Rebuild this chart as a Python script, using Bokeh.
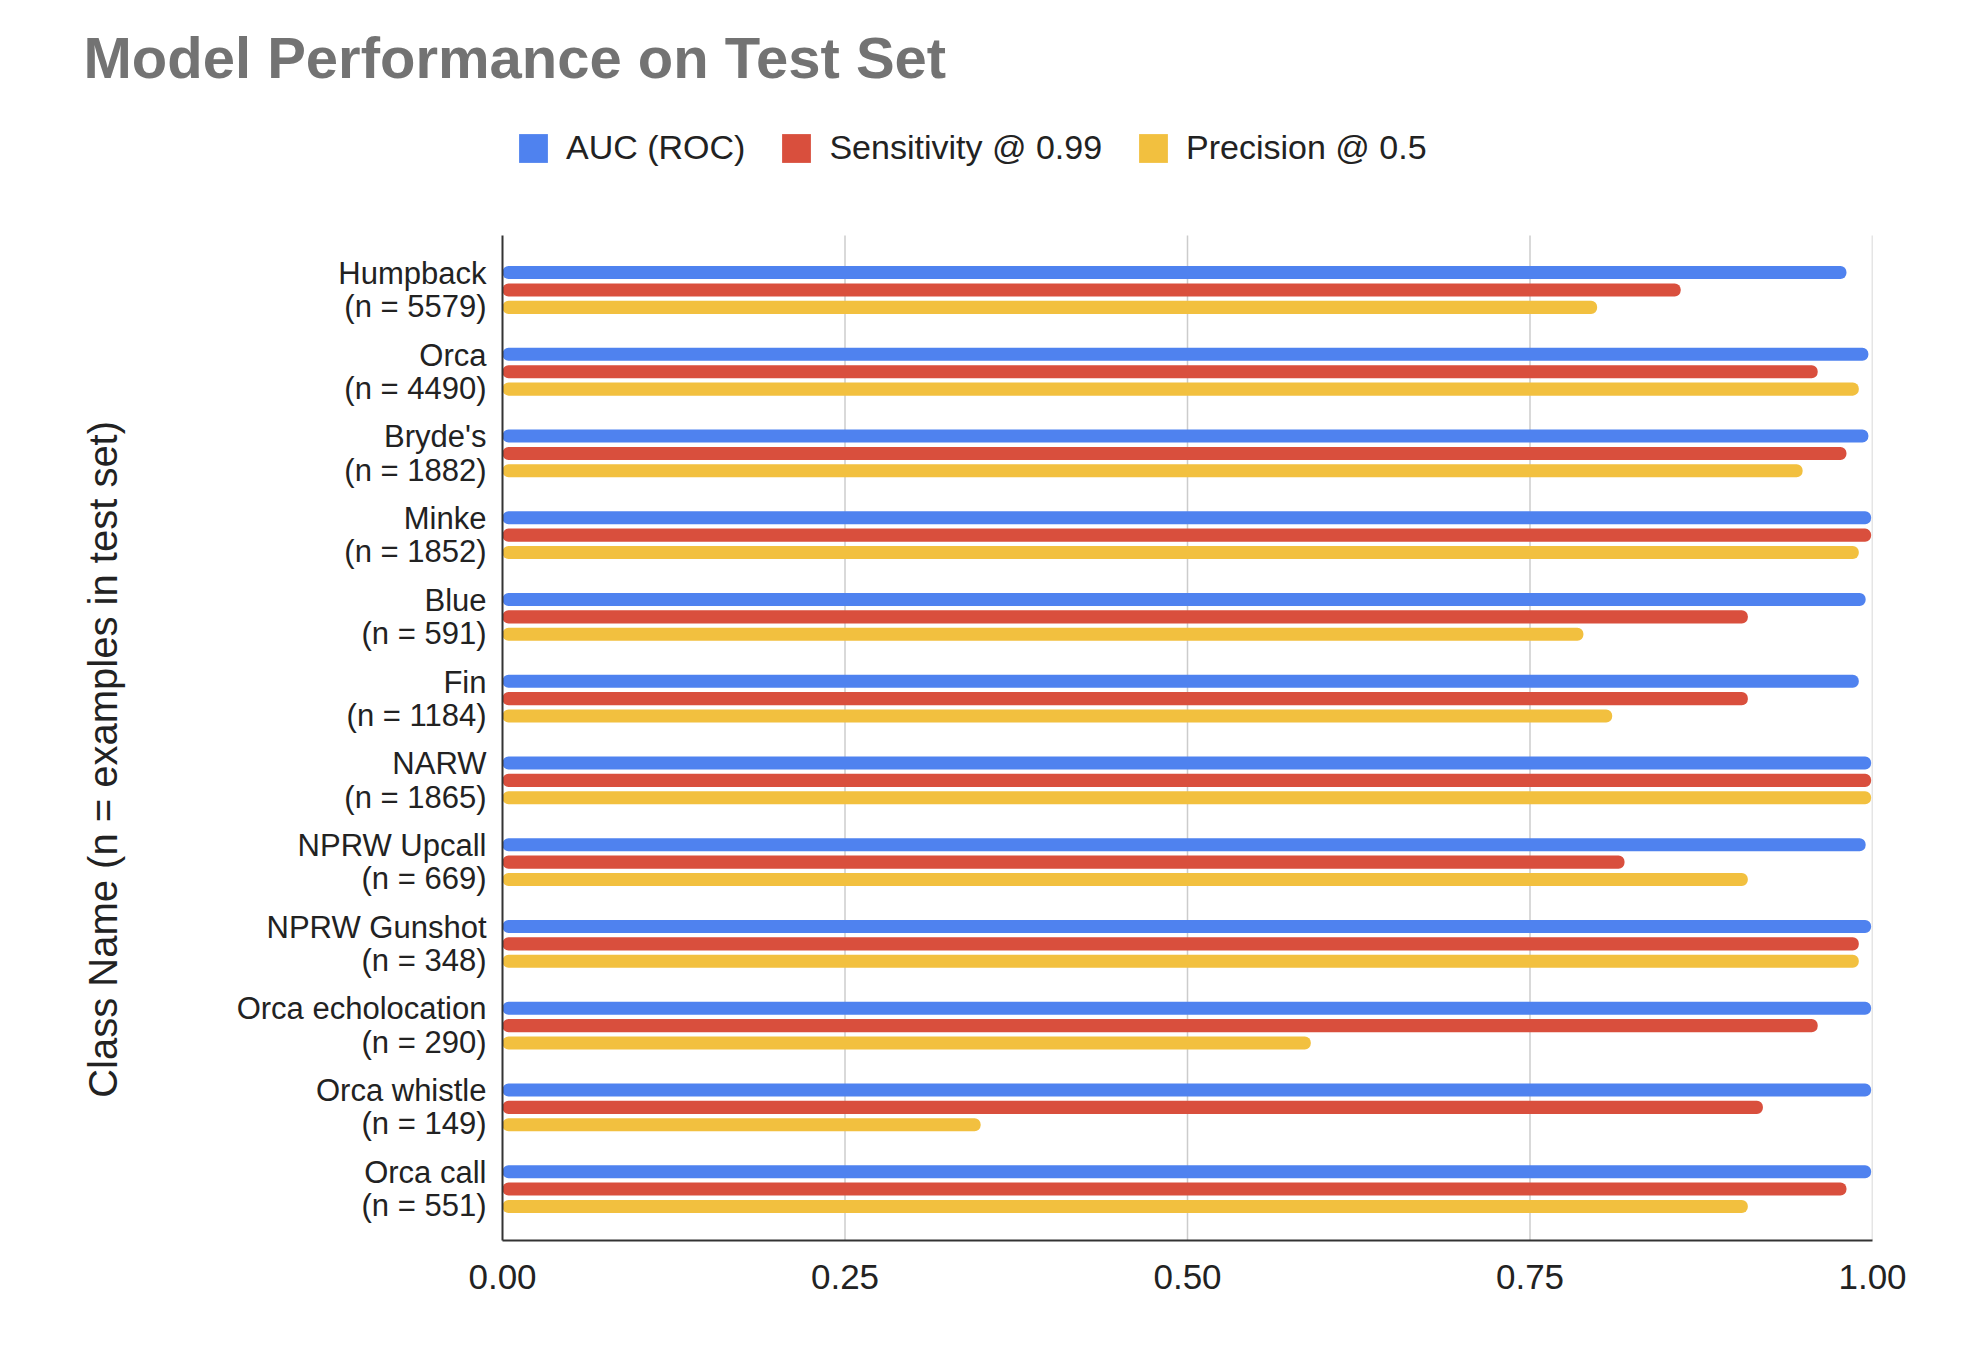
from bokeh.plotting import figure
from bokeh.models import Range1d, FixedTicker, Legend, LegendItem
from bokeh.embed import file_html
from bokeh.resources import INLINE

categories = ["Humpback", "Orca", "Bryde's", "Minke", "Blue", "Fin", "NARW",
              "NPRW Upcall", "NPRW Gunshot", "Orca echolocation", "Orca whistle", "Orca call"]
counts = [5579, 4490, 1882, 1852, 591, 1184, 1865, 669, 348, 290, 149, 551]
auc = [0.981, 0.997, 0.997, 0.999, 0.995, 0.990, 0.999, 0.995, 0.999, 0.999, 0.999, 0.999]
sensitivity = [0.860, 0.960, 0.981, 0.999, 0.909, 0.909, 0.999, 0.819, 0.990, 0.960, 0.920, 0.981]
precision = [0.799, 0.990, 0.949, 0.990, 0.789, 0.810, 0.999, 0.909, 0.990, 0.590, 0.349, 0.909]
series_names = ["AUC (ROC)", "Sensitivity @ 0.99", "Precision @ 0.5"]
x_ticks = [0.0, 0.25, 0.5, 0.75, 1.0]
x_tick_labels = ["0.00", "0.25", "0.50", "0.75", "1.00"]

colors = ["#4f82ef", "#d94f3d", "#f2c03f"]
FONT = "Liberation Sans"

W, H = 1966, 1340
left, right, top, bottom = 502, 94, 100, 100
# data extent of the bar area and the frame (frame also hosts the legend)
y_lo, y_hi = -0.666, 11.629
PX = 81.74
y_top = y_lo - 135 / PX

p = figure(width=W, height=H, output_backend="svg", toolbar_location=None,
           x_range=Range1d(0, 1), y_range=Range1d(y_hi, y_top),
           min_border_left=left, min_border_right=right,
           min_border_top=top, min_border_bottom=bottom)
p.outline_line_color = None
p.background_fill_color = "white"

# vertical grid lines limited to the bar area
grid_x = x_ticks[1:]
p.segment(x0=grid_x, x1=grid_x, y0=[y_lo] * len(grid_x), y1=[y_hi] * len(grid_x),
          line_color="#cccccc", line_width=1.5)

idx = list(range(len(categories)))
offsets = [-0.213, 0.0, 0.213]
renderers = []
for vals, off, col in zip([auc, sensitivity, precision], offsets, colors):
    r = p.hbar(y=[i + off for i in idx], right=vals, left=0, height=0.16,
               fill_color=col, line_color=None, border_radius=6)
    renderers.append(r)

# axes
p.yaxis.ticker = FixedTicker(ticks=idx)
p.yaxis.bounds = (y_lo, y_hi)
p.yaxis.major_label_overrides = {i: f"{c}\n(n = {n})" for i, (c, n) in enumerate(zip(categories, counts))}
p.yaxis.major_label_text_font = FONT
p.yaxis.major_label_text_font_size = "31px"
p.yaxis.major_label_text_line_height = 0.95
p.yaxis.major_label_text_color = "#222222"
p.yaxis.major_label_standoff = 10
p.yaxis.major_tick_line_color = None
p.yaxis.minor_tick_line_color = None
p.yaxis.axis_line_color = "#333333"
p.yaxis.axis_line_width = 2
# trailing no-break spaces shift the centred label down onto the bar area
p.yaxis.axis_label = "Class Name (n = examples in test set)" + "\u00a0" * 16
p.yaxis.axis_label_text_font = FONT
p.yaxis.axis_label_text_font_style = "normal"
p.yaxis.axis_label_text_font_size = "40px"
p.yaxis.axis_label_text_color = "#222222"
p.yaxis.axis_label_standoff = 109

p.xaxis.ticker = FixedTicker(ticks=x_ticks)
p.xaxis.major_label_overrides = {t: l for t, l in zip(x_ticks, x_tick_labels)}
p.xaxis.major_label_text_font = FONT
p.xaxis.major_label_text_font_size = "35px"
p.xaxis.major_label_text_color = "#222222"
p.xaxis.major_label_standoff = 18
p.xaxis.major_tick_line_color = None
p.xaxis.minor_tick_line_color = None
p.xaxis.axis_line_color = "#333333"
p.xaxis.axis_line_width = 2

p.xgrid.grid_line_color = None
p.ygrid.grid_line_color = None

legend = Legend(items=[LegendItem(label=n, renderers=[r]) for n, r in zip(series_names, renderers)],
                orientation="horizontal", location=(13, 1073),
                glyph_width=36, glyph_height=36, label_standoff=15, spacing=33,
                padding=0, margin=0, border_line_color=None, background_fill_alpha=0,
                label_text_font=FONT, label_text_font_size="34px", label_text_color="#222222")
p.add_layout(legend, "center")

p.title.text = "Model Performance on Test Set"
p.title.text_font = FONT
p.title.text_font_style = "bold"
p.title.text_font_size = "58px"
p.title.text_color = "#737373"
p.title.align = "left"
p.title.offset = 83 - left
p.title.standoff = 21

open("out.html", "w").write(file_html(p, INLINE))
